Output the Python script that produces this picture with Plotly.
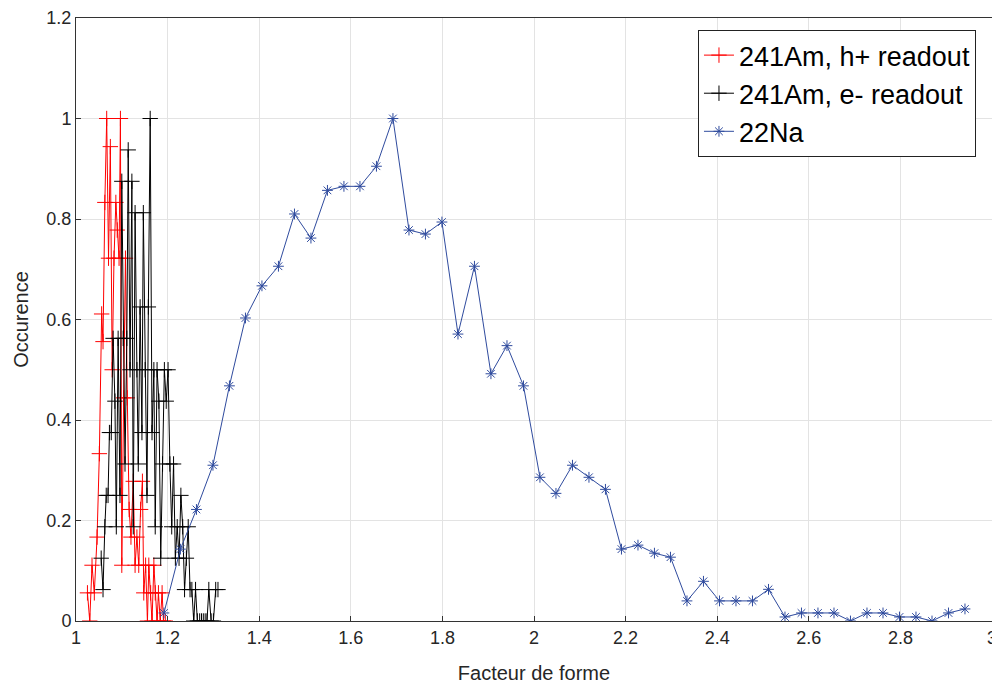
import plotly.graph_objects as go

# 241Am, h+ readout (red)
red_x = [1.025, 1.030, 1.035, 1.040, 1.046, 1.051, 1.056, 1.059, 1.063, 1.067,
         1.071, 1.075, 1.079, 1.083, 1.087, 1.090, 1.094, 1.097, 1.100, 1.104,
         1.108, 1.112, 1.116, 1.120, 1.125, 1.129, 1.133, 1.137, 1.141, 1.145,
         1.148, 1.152, 1.156, 1.159, 1.163, 1.166, 1.170, 1.173, 1.177, 1.180,
         1.184, 1.188, 1.191, 1.195]
red_y = [0.056, 0.0, 0.111, 0.056, 0.167, 0.333, 0.611, 0.556, 0.833, 1.0,
         0.722, 0.944, 0.5, 0.722, 0.833, 0.778, 0.722, 1.0, 0.111, 0.444,
         0.722, 0.444, 0.222, 0.167, 0.278, 0.111, 0.167, 0.111, 0.222, 0.278,
         0.056, 0.111, 0.0, 0.111, 0.056, 0.0, 0.111, 0.056, 0.0, 0.056,
         0.0, 0.056, 0.0, 0.0]

# 241Am, e- readout (black)
black_x = [1.055, 1.059, 1.063, 1.066, 1.070, 1.073, 1.077, 1.081, 1.085, 1.088,
           1.092, 1.096, 1.100, 1.103, 1.107, 1.111, 1.114, 1.118, 1.122, 1.125,
           1.129, 1.133, 1.136, 1.140, 1.144, 1.147, 1.151, 1.155, 1.158, 1.162,
           1.166, 1.170, 1.173, 1.177, 1.181, 1.185, 1.189, 1.193, 1.197, 1.201,
           1.205, 1.209, 1.213, 1.217, 1.221, 1.225, 1.229, 1.233, 1.237, 1.241,
           1.245, 1.249, 1.253, 1.257, 1.261, 1.265, 1.270, 1.274, 1.278, 1.282,
           1.286, 1.290, 1.295, 1.300, 1.305, 1.310]
black_y = [0.125, 0.0625, 0.1875, 0.25, 0.25, 0.375, 0.375, 0.5625, 0.4375, 0.1875,
           0.5625, 0.25, 0.875, 0.5625, 0.3125, 0.5625, 0.9375, 0.5, 0.875, 0.1875,
           0.8125, 0.5, 0.3125, 0.625, 0.375, 0.8125, 0.5, 0.25, 0.625, 1.0,
           0.375, 0.5, 0.1875, 0.5, 0.4375, 0.125, 0.3125, 0.5, 0.4375, 0.5,
           0.3125, 0.1875, 0.3125, 0.125, 0.1875, 0.125, 0.25, 0.1875, 0.0625, 0.125,
           0.1875, 0.0625, 0.0625, 0.0, 0.0625, 0.0, 0.0, 0.0, 0.0, 0.0,
           0.0, 0.0625, 0.0, 0.0, 0.0625, 0.0625]

# 22Na (blue)
na_x = [1.192, 1.228, 1.263, 1.299, 1.335, 1.370, 1.406, 1.442, 1.477, 1.513,
        1.549, 1.585, 1.620, 1.656, 1.692, 1.727, 1.763, 1.799, 1.834, 1.870,
        1.906, 1.941, 1.977, 2.013, 2.048, 2.084, 2.120, 2.156, 2.191, 2.227,
        2.263, 2.298, 2.334, 2.370, 2.405, 2.441, 2.477, 2.512, 2.548, 2.584,
        2.620, 2.655, 2.691, 2.727, 2.762, 2.798, 2.834, 2.869, 2.905, 2.941]
na_y = [0.016, 0.143, 0.222, 0.31, 0.468, 0.603, 0.667, 0.706, 0.81, 0.762,
        0.857, 0.865, 0.865, 0.905, 1.0, 0.778, 0.770, 0.794, 0.571, 0.706,
        0.492, 0.548, 0.468, 0.286, 0.254, 0.310, 0.286, 0.262, 0.143, 0.151,
        0.135, 0.127, 0.040, 0.079, 0.040, 0.040, 0.040, 0.063, 0.008, 0.016,
        0.016, 0.016, 0.0, 0.016, 0.016, 0.008, 0.008, 0.0, 0.016, 0.024]

x_ticks = [1, 1.2, 1.4, 1.6, 1.8, 2, 2.2, 2.4, 2.6, 2.8, 3]
x_tick_labels = ["1", "1.2", "1.4", "1.6", "1.8", "2", "2.2", "2.4", "2.6", "2.8", "3"]
y_ticks = [0, 0.2, 0.4, 0.6, 0.8, 1, 1.2]
y_tick_labels = ["0", "0.2", "0.4", "0.6", "0.8", "1", "1.2"]

fig = go.Figure()
fig.add_trace(go.Scatter(
    x=red_x, y=red_y, mode="lines+markers", name="241Am, h+ readout",
    line=dict(color="#ff0000", width=1),
    marker=dict(symbol="cross-thin", size=11, line=dict(color="#ff0000", width=1)),
))
fig.add_trace(go.Scatter(
    x=black_x, y=black_y, mode="lines+markers", name="241Am, e- readout",
    line=dict(color="#000000", width=1),
    marker=dict(symbol="cross-thin", size=11, line=dict(color="#000000", width=1)),
))
fig.add_trace(go.Scatter(
    x=na_x, y=na_y, mode="lines+markers", name="22Na",
    line=dict(color="#2f4b9e", width=1),
    marker=dict(symbol="asterisk-open", size=9, line=dict(color="#3a55b0", width=1)),
))

axis_common = dict(
    showgrid=True, gridcolor="#e3e3e3", gridwidth=1,
    showline=True, linecolor="#333333", linewidth=1, mirror=True,
    ticks="inside", ticklen=5, tickcolor="#333333",
    zeroline=False, automargin=False,
    tickfont=dict(size=18, color="#262626"),
)

fig.update_layout(
    width=992, height=678,
    margin=dict(l=68, r=8, t=10, b=65),
    paper_bgcolor="white", plot_bgcolor="white",
    font=dict(family="Liberation Sans, Arial, sans-serif", color="#262626"),
    xaxis=dict(range=[1, 3], tickvals=x_ticks, ticktext=x_tick_labels,
               title=dict(text="Facteur de forme", font=dict(size=20), standoff=19),
               **axis_common),
    yaxis=dict(range=[0, 1.2], tickvals=y_ticks, ticktext=y_tick_labels,
               title=dict(text="Occurence", font=dict(size=20), standoff=12),
               **axis_common),
    legend=dict(x=0.9825, y=0.98, xanchor="right", yanchor="top",
                bgcolor="white", bordercolor="#222222", borderwidth=1,
                font=dict(size=27, color="#000000"),
                tracegroupgap=0),
    showlegend=True,
)

fig.write_html("out.html")
